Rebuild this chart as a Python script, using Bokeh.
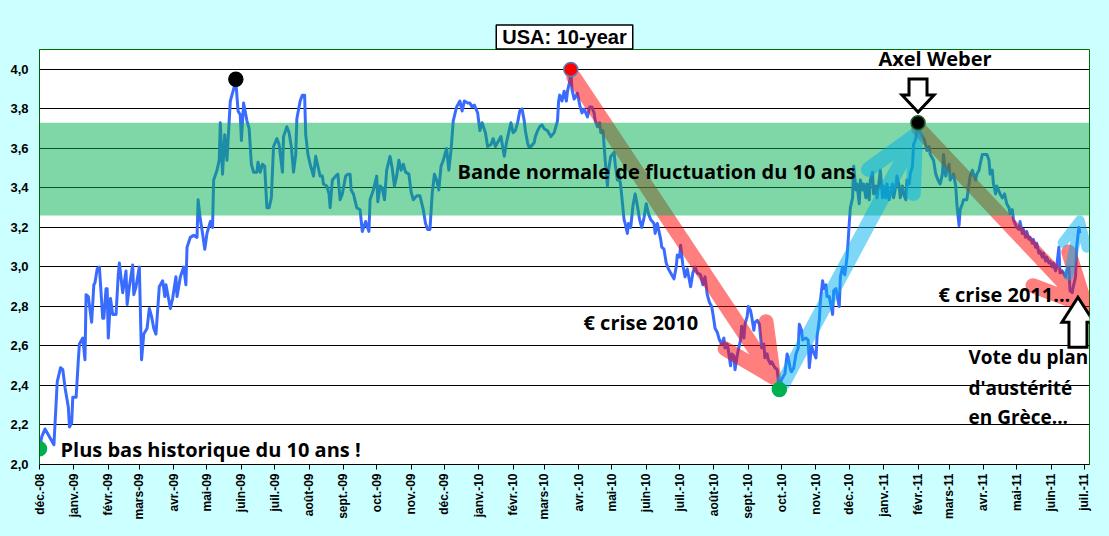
import math
from datetime import date
from bokeh.plotting import figure
from bokeh.models import Range1d, FixedTicker, CustomJSTickFormatter, Label
from bokeh.embed import file_html
from bokeh.resources import INLINE

# ---------------- data ----------------
TITLE = "USA: 10-year"
START = date(2008, 12, 1)
month_labels = ["déc.-08", "janv.-09", "févr.-09", "mars-09", "avr.-09", "mai-09",
                "juin-09", "juil.-09", "août-09", "sept.-09", "oct.-09", "nov.-09",
                "déc.-09", "janv.-10", "févr.-10", "mars-10", "avr.-10", "mai-10",
                "juin-10", "juil.-10", "août-10", "sept.-10", "oct.-10", "nov.-10",
                "déc.-10", "janv.-11", "févr.-11", "mars-11", "avr.-11", "mai-11",
                "juin-11", "juil.-11"]
y_ticks = [2.0, 2.2, 2.4, 2.6, 2.8, 3.0, 3.2, 3.4, 3.6, 3.8, 4.0]

# days since 1 Dec 2008 (chart axis) and 10-year yield (%)
days_a = [0, 2, 5, 13, 16, 19, 21, 23, 26, 27, 29, 30, 33, 35, 36, 39, 41, 42, 44, 47,
          49, 50, 52, 54, 57, 58, 60, 61, 62, 64, 66, 69, 71, 72, 75, 78, 79, 81, 84, 85,
          87, 90, 92, 94, 97, 99, 101, 103, 105, 108, 111, 113, 114, 118, 120, 123, 124, 127, 130, 132]
yld_a = [2.08, 2.14, 2.18, 2.10, 2.42, 2.49, 2.48, 2.39, 2.29, 2.19, 2.21, 2.34, 2.34, 2.53, 2.61, 2.64, 2.53, 2.86, 2.85, 2.72,
         2.91, 2.92, 2.99, 3.00, 2.74, 2.74, 2.89, 2.89, 2.64, 2.84, 2.76, 2.76, 2.96, 3.02, 2.87, 2.98, 2.81, 2.90, 3.01, 2.86,
         2.90, 3.00, 2.53, 2.66, 2.69, 2.79, 2.75, 2.69, 2.66, 2.90, 2.93, 2.85, 2.91, 2.79, 2.84, 2.95, 2.85, 2.95, 3.00, 2.91]

days_b = [133, 136, 139, 142, 143, 145, 147, 149, 151, 154, 156, 157, 160, 162, 163, 165, 167, 169, 172, 174,
          175, 177, 179, 181, 182, 184, 187, 189, 191, 193, 196, 197, 199, 201, 203, 205, 207, 209, 211, 214,
          216, 219, 220, 223, 225, 227, 229, 231, 232, 235, 237, 239, 240, 242, 244, 246, 247, 249, 251, 253,
          255, 256, 259, 261, 262, 264, 267, 269, 271, 273, 276, 278, 280, 281, 283, 286, 289, 291, 294, 297, 298]
yld_b = [3.10, 3.15, 3.16, 3.15, 3.34, 3.24, 3.17, 3.09, 3.17, 3.23, 3.20, 3.44, 3.49, 3.54, 3.73, 3.47, 3.67, 3.54, 3.84, 3.88,
         3.90, 3.94, 3.79, 3.77, 3.64, 3.83, 3.74, 3.70, 3.52, 3.48, 3.48, 3.53, 3.48, 3.52, 3.51, 3.30, 3.30, 3.35, 3.61, 3.65,
         3.62, 3.48, 3.66, 3.71, 3.68, 3.61, 3.48, 3.57, 3.75, 3.84, 3.87, 3.87, 3.67, 3.57, 3.52, 3.48, 3.46, 3.56, 3.51, 3.46,
         3.46, 3.42, 3.41, 3.37, 3.30, 3.44, 3.46, 3.47, 3.34, 3.37, 3.46, 3.47, 3.47, 3.39, 3.37, 3.30, 3.29, 3.18, 3.23, 3.18, 3.34]

days_c = [301, 304, 305, 307, 309, 311, 313, 316, 318, 320, 322, 324, 326, 328, 330, 333, 335, 337, 340, 343,
          346, 348, 350, 352, 354, 356, 358, 360, 362, 364, 367, 369, 371, 373, 376, 379, 381, 383, 386, 388,
          390, 392, 395, 397]
yld_c = [3.39, 3.46, 3.33, 3.41, 3.40, 3.34, 3.49, 3.56, 3.50, 3.41, 3.46, 3.54, 3.49, 3.52, 3.48, 3.47, 3.38, 3.34, 3.36, 3.36,
         3.29, 3.22, 3.19, 3.19, 3.37, 3.47, 3.44, 3.39, 3.51, 3.54, 3.60, 3.49, 3.59, 3.74, 3.81, 3.84, 3.79, 3.84, 3.83, 3.83,
         3.81, 3.82, 3.78, 3.69]

days_d = [399, 402, 404, 407, 409, 411, 413, 416, 419, 421, 423, 425, 427, 429, 431, 433, 435, 437, 438, 440,
          441, 443, 446, 447, 449, 451, 453, 455, 458, 459, 461, 464, 467, 468, 469, 471, 473, 475, 476, 478,
          479, 480, 482, 485, 487, 489, 491, 494, 496, 498, 500, 501, 503, 505, 506, 508, 510, 512, 513, 515,
          518, 519, 521, 522, 524, 527, 528, 530, 531, 533, 535, 537, 539, 541, 543, 545, 547, 549, 551, 554,
          555, 557, 560, 561, 563, 565, 567]
yld_d = [3.73, 3.68, 3.61, 3.62, 3.65, 3.61, 3.63, 3.66, 3.56, 3.63, 3.68, 3.73, 3.68, 3.69, 3.73, 3.79, 3.80, 3.74, 3.69, 3.63,
         3.61, 3.61, 3.63, 3.66, 3.69, 3.71, 3.72, 3.70, 3.69, 3.68, 3.66, 3.68, 3.74, 3.84, 3.87, 3.84, 3.89, 3.84, 3.89, 3.94,
         4.00, 3.90, 3.85, 3.88, 3.82, 3.78, 3.80, 3.76, 3.81, 3.81, 3.78, 3.74, 3.71, 3.73, 3.68, 3.69, 3.54, 3.41, 3.49, 3.56,
         3.58, 3.52, 3.44, 3.48, 3.41, 3.24, 3.22, 3.17, 3.22, 3.20, 3.31, 3.37, 3.31, 3.24, 3.20, 3.25, 3.32, 3.27, 3.24, 3.22,
         3.17, 3.22, 3.14, 3.10, 3.09, 3.02, 2.99]

days_e = [569, 572, 574, 575, 577, 578, 580, 582, 584, 587, 589, 591, 593, 596, 598, 600, 602, 604, 606, 608,
          609, 611, 613, 615, 617, 618, 620, 621, 623, 624, 626, 627, 629, 630, 632, 633, 635, 636, 638, 639,
          641, 642, 644, 645, 647, 649, 651, 653, 654, 656, 657, 659, 660, 663, 665, 667, 669, 670, 672, 674,
          675, 677, 678, 680, 682, 684, 685, 687, 688, 691, 693, 694, 696, 697, 700, 701, 703, 704, 706, 707,
          709, 710, 712, 715, 716, 718, 721, 722, 724, 726, 728, 729]
yld_e = [2.97, 2.94, 3.00, 3.06, 3.05, 3.11, 3.01, 2.95, 2.99, 2.90, 2.97, 3.00, 2.97, 2.96, 2.91, 2.95, 2.86, 2.82, 2.80, 2.73,
         2.69, 2.67, 2.63, 2.61, 2.64, 2.59, 2.61, 2.58, 2.50, 2.56, 2.55, 2.48, 2.55, 2.58, 2.63, 2.70, 2.64, 2.71, 2.75, 2.80,
         2.78, 2.75, 2.68, 2.72, 2.73, 2.71, 2.59, 2.61, 2.54, 2.56, 2.53, 2.51, 2.52, 2.49, 2.48, 2.38, 2.43, 2.44, 2.46, 2.56,
         2.54, 2.48, 2.47, 2.49, 2.56, 2.59, 2.71, 2.68, 2.63, 2.64, 2.63, 2.49, 2.60, 2.58, 2.54, 2.65, 2.73, 2.83, 2.93, 2.89,
         2.91, 2.85, 2.85, 2.76, 2.88, 2.89, 2.80, 2.95, 3.00, 2.96, 3.05, 3.13]

days_f = [730, 731, 733, 734, 736, 737, 739, 740, 742, 743, 745, 746, 748, 749, 751, 752, 754, 755, 757, 758,
          760, 761, 763, 764, 766, 767, 769, 770, 772, 773, 775, 776, 778, 779, 781, 782, 784, 785, 787, 788,
          790, 791, 792, 794, 796, 798, 800, 802, 803, 806, 808, 810, 812, 814, 815, 817, 818, 820, 821, 824,
          826, 827, 829, 830, 832, 833, 836, 838, 839, 841, 842, 844, 845, 847, 848, 850, 852, 854, 856, 857,
          859, 860, 862, 863, 866, 868, 870, 872, 874, 875, 877, 878, 881, 883, 884, 886, 887, 889, 890, 892,
          893, 895, 896, 898, 899, 901, 902, 904, 905, 907, 908, 910, 911, 913, 914, 916, 917, 919, 920, 922,
          925, 926, 928, 929, 931, 932, 934, 935, 937, 938]
yld_f = [3.22, 3.30, 3.35, 3.51, 3.39, 3.42, 3.32, 3.44, 3.39, 3.42, 3.35, 3.42, 3.34, 3.44, 3.48, 3.37, 3.41, 3.35, 3.44, 3.49,
         3.35, 3.41, 3.35, 3.42, 3.34, 3.37, 3.42, 3.35, 3.41, 3.46, 3.41, 3.35, 3.41, 3.37, 3.34, 3.44, 3.42, 3.47, 3.51, 3.62,
         3.65, 3.69, 3.73, 3.68, 3.66, 3.64, 3.59, 3.61, 3.57, 3.54, 3.47, 3.44, 3.42, 3.47, 3.57, 3.46, 3.49, 3.52, 3.44, 3.47,
         3.41, 3.32, 3.21, 3.29, 3.32, 3.34, 3.34, 3.42, 3.46, 3.49, 3.47, 3.44, 3.47, 3.49, 3.52, 3.57, 3.57, 3.57, 3.54, 3.47,
         3.49, 3.42, 3.37, 3.41, 3.37, 3.35, 3.37, 3.32, 3.30, 3.27, 3.29, 3.24, 3.20, 3.19, 3.23, 3.17, 3.19, 3.15, 3.18, 3.14,
         3.15, 3.12, 3.14, 3.10, 3.12, 3.07, 3.08, 3.05, 3.07, 3.03, 3.05, 3.02, 3.03, 3.00, 3.02, 2.98, 3.00, 3.10, 2.97, 2.98,
         2.95, 2.98, 3.00, 2.88, 2.87, 2.90, 2.95, 3.10, 3.20, 3.17]

days = days_a + days_b + days_c + days_d + days_e + days_f
yields = yld_a + yld_b + yld_c + yld_d + yld_e + yld_f
assert len(days) == len(yields)

# normal fluctuation band
band_low, band_high = 3.26, 3.73

# highlighted points
pt_days = [0, 177, 479, 667, 792]
pt_vals = [2.08, 3.95, 4.00, 2.38, 3.73]
pt_colors = ["#00B050", "#000000", "#FF0000", "#00B050", "#000000"]
pt_lines = ["#00B050", "#000000", "#4F81BD", "#00B050", "#1E5E2E"]

# trend arrows: (start day, start value) -> (tip day, tip value)
red_arrows = [((481.7, 3.961), (661.7, 2.442)), ((792.7, 3.700), (942.9, 2.805))]
blue_arrows = [((670.7, 2.415), (789.7, 3.666)), ((927.6, 2.957), (937.8, 3.235))]

# hollow block arrows: tip (day, value), direction (+1 up / -1 down), length, head length
block_arrows = [((792.0, 3.784), -1, 33, 17), ((936.2, 2.847), 1, 50, 25)]

# annotations: (day, value, text, font size)
notes = [(18.9, 2.076, "Plus bas historique du 10 ans !", "20px"),
         (376.8, 3.484, "Bande normale de fluctuation du 10 ans", "20px"),
         (490.4, 2.719, "€ crise 2010", "20px"),
         (756.3, 4.056, "Axel Weber", "20px"),
         (810.4, 2.861, "€ crise 2011...", "20px"),
         (837.5, 2.542, "Vote du plan", "19px"),
         (837.5, 2.385, "d'austérité", "19px"),
         (837.5, 2.238, "en Grèce...", "19px")]

# ---------------- layout ----------------
W, H = 1109, 536
BL, BR, BT, BB = 39, 20, 49, 72
X0, X1 = 0.0, 946.6
Y0, Y1 = 2.0, 4.101
PX_X = (W - BL - BR) / (X1 - X0)
PX_Y = (H - BT - BB) / (Y1 - Y0)

tick_days = []
for i in range(len(month_labels)):
    m = 12 + i
    yy = 2008 + (m - 1) // 12
    mo = (m - 1) % 12 + 1
    tick_days.append((date(yy, mo, 1) - START).days)

p = figure(width=W, height=H, x_range=Range1d(X0, X1), y_range=Range1d(Y0, Y1),
           output_backend="svg", toolbar_location=None,
           min_border_left=BL, min_border_right=BR, min_border_top=BT, min_border_bottom=BB,
           background_fill_color="white", border_fill_color="#CCFFFF",
           outline_line_color="#007000", outline_line_width=1)

try:
    from bokeh.models import GlobalInlineStyleSheet
    p.stylesheets = [GlobalInlineStyleSheet(css="html, body { background-color: #CCFFFF; }")]
except Exception:
    pass

# title box
p.title.text = TITLE
p.title.align = "center"
p.title.text_font = "Liberation Sans"
p.title.text_font_style = "bold"
p.title.text_font_size = "20px"
p.title.text_color = "black"
p.title.background_fill_color = "white"
p.title.border_line_color = "black"
p.title.border_line_width = 1.5
p.title.standoff = 1
p.title.offset = 6
try:
    p.title.padding = (6, 1)
except Exception:
    try:
        p.title.padding = 2
    except Exception:
        pass

# axes
xa = p.xaxis[0]
xa.ticker = FixedTicker(ticks=tick_days)
xa.formatter = CustomJSTickFormatter(args=dict(t=tick_days, l=month_labels),
                                     code="const i = t.indexOf(tick); return i >= 0 ? l[i] : '';")
xa.major_label_orientation = math.pi / 2
xa.minor_tick_line_color = None
xa.major_tick_out = 5
xa.major_tick_in = 0
xa.major_tick_line_color = "black"
xa.major_label_standoff = 4
xa.axis_line_color = "black"
xa.major_label_text_font = "Liberation Sans"
xa.major_label_text_font_style = "bold"
xa.major_label_text_font_size = "12px"
xa.major_label_text_color = "black"

ya = p.yaxis[0]
ya.ticker = FixedTicker(ticks=y_ticks)
ya.formatter = CustomJSTickFormatter(code="return tick.toFixed(1).replace('.', ',');")
ya.minor_tick_line_color = None
ya.major_tick_out = 0
ya.major_tick_in = 0
ya.major_label_standoff = 11
ya.axis_line_color = "#006400"
ya.major_label_text_font = "Liberation Sans"
ya.major_label_text_font_style = "bold"
ya.major_label_text_font_size = "13px"
ya.major_label_text_color = "black"

p.xgrid.grid_line_color = None
p.ygrid.grid_line_color = "black"
p.ygrid.grid_line_width = 1

# series
p.line(days, yields, line_color="#3A6BFF", line_width=3, line_join="round")


def arrow_path(start, tip, head_px, ang_deg=26):
    x0, y0 = start
    x1, y1 = tip
    vx, vy = (x1 - x0) * PX_X, (y1 - y0) * PX_Y
    L = math.hypot(vx, vy)
    bx, by = -vx / L, -vy / L
    xs, ys = [x0, x1], [y0, y1]
    for s in (1, -1):
        a = math.radians(ang_deg) * s
        rx = bx * math.cos(a) - by * math.sin(a)
        ry = bx * math.sin(a) + by * math.cos(a)
        xs += [x1 + rx * head_px / PX_X, x1]
        ys += [y1 + ry * head_px / PX_Y, y1]
    return xs, ys


for st, tp in red_arrows:
    xs, ys = arrow_path(st, tp, 56)
    p.line(xs, ys, line_color="#FF0000", line_alpha=0.5, line_width=15,
           line_cap="round", line_join="round")

p.varea(x=[X0, X1], y1=[band_low, band_low], y2=[band_high, band_high],
        fill_color="#00B050", fill_alpha=0.5)

for k, (st, tp) in enumerate(blue_arrows):
    xs, ys = arrow_path(st, tp, 58 if k == 0 else 28)
    p.line(xs, ys, line_color="#00B0F0", line_alpha=0.5, line_width=15 if k == 0 else 10,
           line_cap="round", line_join="round")

p.scatter(pt_days, pt_vals, size=14, fill_color=pt_colors, line_color=pt_lines, line_width=1.5)

# hollow block arrows
bxs, bys = [], []
for (tx, tv), d, length, hl in block_arrows:
    hw, sw = 32, 18
    pts = [(0, 0), (hw / 2, -hl), (sw / 2, -hl), (sw / 2, -length),
           (-sw / 2, -length), (-sw / 2, -hl), (-hw / 2, -hl)]
    bxs.append([tx + px / PX_X for px, py in pts])
    bys.append([tv + d * py / PX_Y for px, py in pts])
p.patches(bxs, bys, fill_color="white", line_color="black", line_width=3, line_join="miter")

# text annotations
for dx, vy, txt, fs in notes:
    p.add_layout(Label(x=dx, y=vy, text=txt, text_font="Open Sans", text_font_style="bold",
                       text_font_size=fs, text_baseline="middle", text_align="left",
                       text_color="black"))

open("out.html", "w").write(file_html(p, INLINE))
